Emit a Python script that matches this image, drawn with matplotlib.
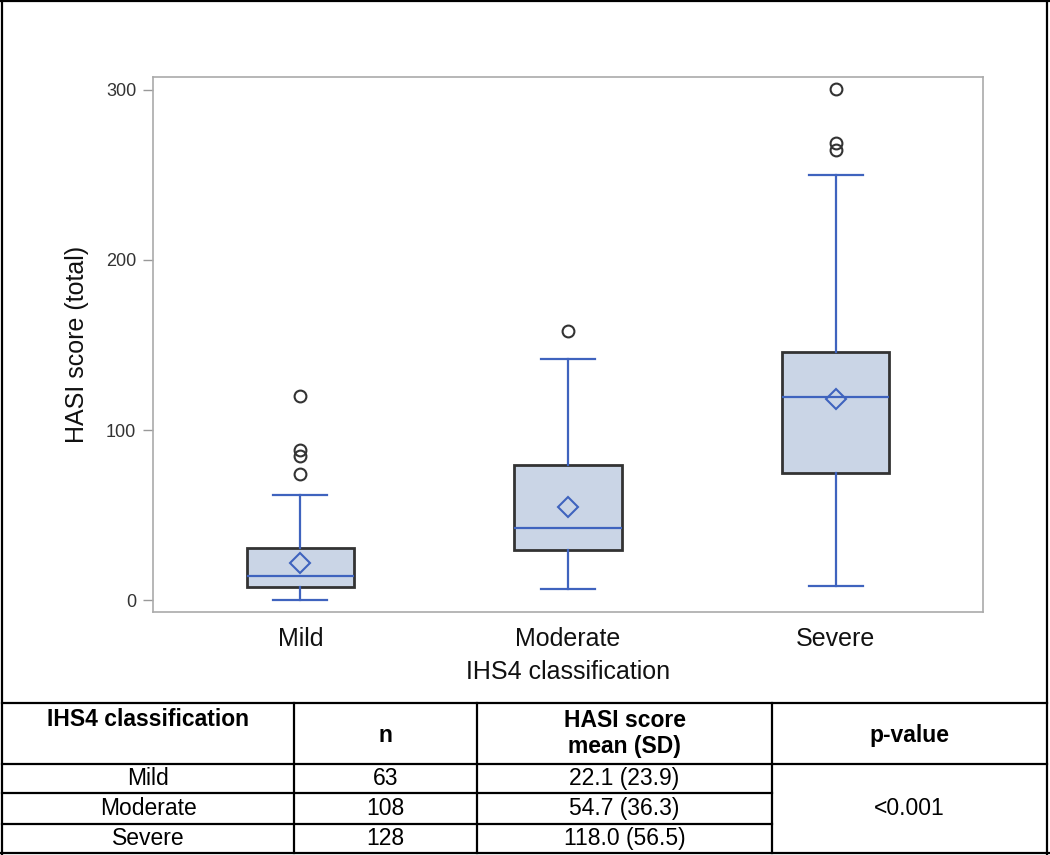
import matplotlib
matplotlib.use("Agg")
import matplotlib.pyplot as plt
from matplotlib.lines import Line2D

plt.rcParams['font.family'] = ['Liberation Sans', 'DejaVu Sans']

# box plot values
groups = ['Mild', 'Moderate', 'Severe']
whis_lo = [0, 6.5, 8.2]
q1 = [7.6, 29.4, 74.7]
medians = [14, 42.4, 119.4]
q3 = [30.6, 79.4, 146]
whis_hi = [62, 142, 250]
means = [22.1, 54.7, 118.0]
outliers = [[74, 85, 88, 120], [158], [264.7, 268.8, 300.6]]

# table under the chart
n_vals = ['63', '108', '128']
mean_sd = ['22.1 (23.9)', '54.7 (36.3)', '118.0 (56.5)']
p_value = '<0.001'

blue = '#3F63BE'
fill = '#CAD5E6'
edge = '#333333'

stats = []
for i, g in enumerate(groups):
    stats.append({'label': g, 'whislo': whis_lo[i], 'q1': q1[i], 'med': medians[i],
                  'q3': q3[i], 'whishi': whis_hi[i], 'mean': means[i],
                  'fliers': outliers[i]})

fig = plt.figure(figsize=(10.5, 8.55), dpi=100)

ax = fig.add_axes([153 / 1050, 1 - 612 / 855, 830 / 1050, 535 / 855])
ax.bxp(stats, positions=[1, 2, 3], widths=0.4, patch_artist=True, showmeans=True,
       capwidths=0.2,
       boxprops=dict(facecolor=fill, edgecolor=edge, linewidth=2),
       whiskerprops=dict(color=blue, linewidth=1.6),
       capprops=dict(color=blue, linewidth=1.6),
       medianprops=dict(color=blue, linewidth=1.6),
       meanprops=dict(marker='D', markerfacecolor='none', markeredgecolor=blue,
                      markersize=10, markeredgewidth=1.5),
       flierprops=dict(marker='o', markerfacecolor='none', markeredgecolor=edge,
                       markersize=8.5, markeredgewidth=1.5))

ax.set_xlim(0.45, 3.55)
ax.set_ylim(-7, 307.6)
ax.set_yticks([0, 100, 200, 300])
ax.tick_params(axis='y', colors='#999999', labelcolor='#333333', labelsize=13,
               length=7, width=1, pad=5)
ax.tick_params(axis='x', length=0, labelsize=18, pad=11, labelcolor='#111111')
for s in ax.spines.values():
    s.set_color('#AAAAAA')
    s.set_linewidth(1.2)
ax.set_xlabel('IHS4 classification', fontsize=18, labelpad=6, color='#111111')
ax.set_ylabel('HASI score (total)', fontsize=18, labelpad=12, color='#111111')

# overlay axes in pixel coordinates for border and table
tab = fig.add_axes([0, 0, 1, 1], zorder=-1)
tab.set_xlim(0, 1050)
tab.set_ylim(855, 0)
tab.axis('off')

lw = 1.6
col_x = [2, 294, 477, 772, 1047]
row_y = [703, 764, 793, 824, 853]


def hline(x0, x1, y):
    tab.add_line(Line2D([x0, x1], [y, y], color='black', linewidth=lw))


def vline(x, y0, y1):
    tab.add_line(Line2D([x, x], [y0, y1], color='black', linewidth=lw))


# outer frame
hline(0, 1050, 1)
hline(0, 1050, 853)
vline(1.5, 0, 855)
vline(1047, 0, 855)

for y in row_y[:-1]:
    if y in (793, 824):
        hline(col_x[0], col_x[3], y)
    else:
        hline(col_x[0], col_x[4], y)
for x in col_x[1:4]:
    vline(x, row_y[0], row_y[-1])

fs = 16.5
cx = [(col_x[i] + col_x[i + 1]) / 2 for i in range(4)]
tab.text(cx[0], 719, 'IHS4 classification', ha='center', va='center',
         fontsize=fs, fontweight='bold')
tab.text(cx[1], 735, 'n', ha='center', va='center', fontsize=fs, fontweight='bold')
tab.text(cx[2], 720, 'HASI score', ha='center', va='center', fontsize=fs,
         fontweight='bold')
tab.text(cx[2], 746, 'mean (SD)', ha='center', va='center', fontsize=fs,
         fontweight='bold')
tab.text(cx[3], 735, 'p-value', ha='center', va='center', fontsize=fs,
         fontweight='bold')

for i in range(3):
    yc = (row_y[i + 1] + row_y[i + 2]) / 2
    tab.text(cx[0], yc, groups[i], ha='center', va='center', fontsize=fs)
    tab.text(cx[1], yc, n_vals[i], ha='center', va='center', fontsize=fs)
    tab.text(cx[2], yc, mean_sd[i], ha='center', va='center', fontsize=fs)
tab.text(cx[3], (row_y[1] + row_y[4]) / 2, p_value, ha='center', va='center',
         fontsize=fs)

fig.savefig('out.png', dpi=100)
